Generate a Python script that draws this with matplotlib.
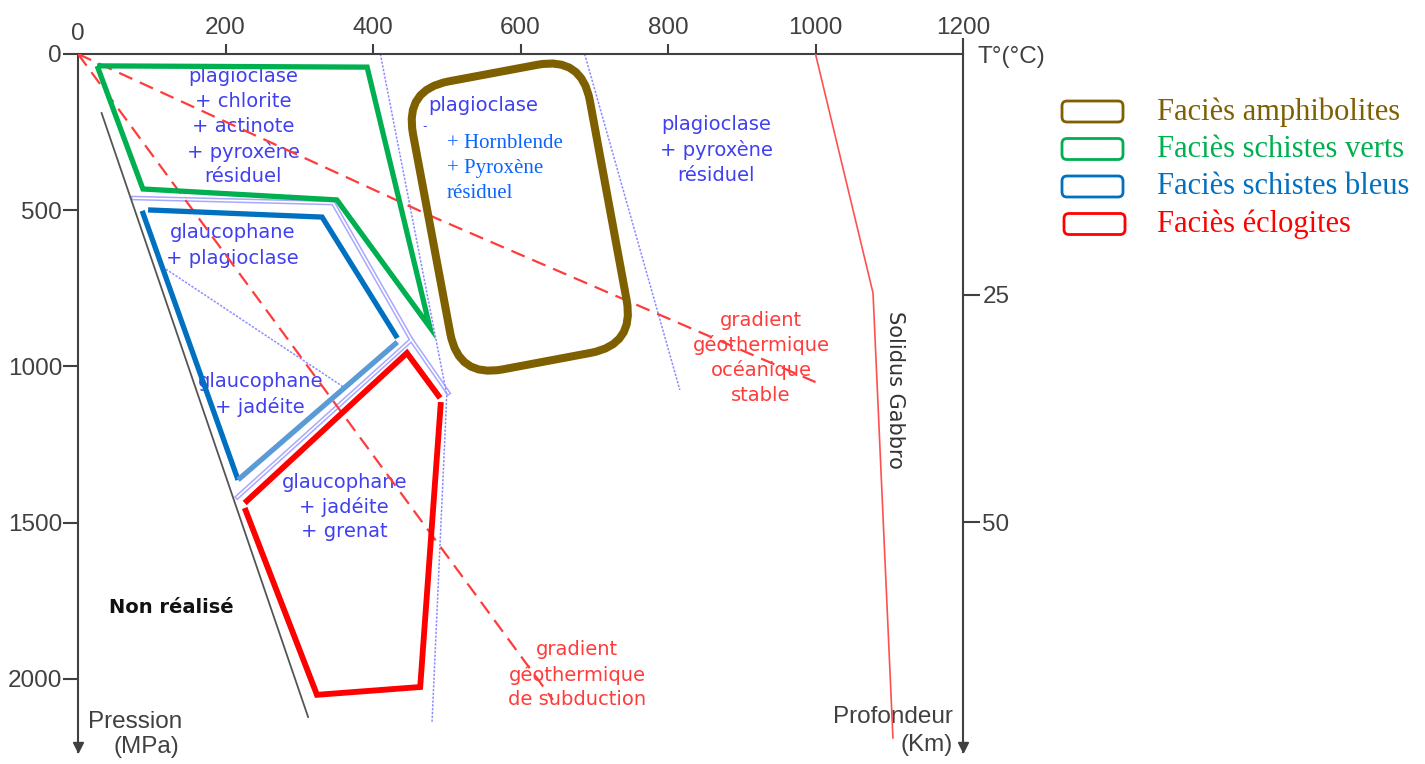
import numpy as np
import matplotlib
matplotlib.use("Agg")
import matplotlib.pyplot as plt
import matplotlib.transforms as mtransforms
from matplotlib.path import Path
from matplotlib.patches import PathPatch, FancyBboxPatch

# ---------------------------------------------------------------
# Facies fields: temperature (°C) and pressure (MPa) of the vertices
# ---------------------------------------------------------------
green_T = [26, 392, 477, 351, 88]
green_P = [38, 42, 874, 467, 432]

blue_top_T = [95, 331, 433]
blue_top_P = [499, 522, 909]
blue_left_T = [87, 217]
blue_left_P = [502, 1363]
blue_base_T = [217, 433]
blue_base_P = [1363, 922]

red_upper_T = [226, 446, 491]
red_upper_P = [1437, 957, 1101]
red_lower_T = [492, 464, 324, 226]
red_lower_P = [1114, 2026, 2051, 1453]

amph_T = [443, 683, 755, 516]
amph_P = [114, 8, 930, 1036]

# Geothermal gradients, gabbro solidus and limit of the realisable domain
ocean_T = [0, 480, 1000]
ocean_P = [0, 520, 1050]
subd_T = [0, 644]
subd_P = [0, 2067]
solidus_T = [1000, 1078, 1105]
solidus_P = [0, 765, 2189]
limit_T = [32, 312]
limit_P = [189, 2122]

# Reaction curves
r1_T = [410, 500, 480]
r1_P = [0, 1091, 2141]
r2_T = [687, 816]
r2_P = [0, 1075]
r3_T = [115, 362]
r3_P = [682, 1069]
dbl1_T = [75, 346, 452, 502]
dbl1_P = [461, 477, 915, 1085]
dbl2_T = [216, 452]
dbl2_P = [1418, 915]

# Axes
T_ticks = [0, 200, 400, 600, 800, 1000, 1200]
P_ticks = [0, 500, 1000, 1500, 2000]
depth_ticks_P = [771, 1498]
depth_labels = ["25", "50"]

# Legend
legend_labels = ["Faciès amphibolites", "Faciès schistes verts",
                 "Faciès schistes bleus", "Faciès éclogites"]
legend_colors = ["#7F6000", "#00B050", "#0070C0", "#FF0000"]

BROWN, GREEN, BLUE, RED = legend_colors
LIGHTBLUE = "#5B9BD5"
AXC = "#404040"
MIN_C = "#4040F0"
GRAD_C = "#FF3C3C"
RXN_C = "#8C8CFF"

plt.rcParams["font.family"] = ["Liberation Sans", "DejaVu Sans"]

W, H, DPI = 1425, 764, 100
fig = plt.figure(figsize=(W / DPI, H / DPI), dpi=DPI)
ax = fig.add_axes([78 / W, (H - 752) / H, (963 - 78) / W, (752 - 54) / H])
ax.set_xlim(0, 1200)
ax.set_ylim(2234, 0)

# ---- frame ----
for s in ("left", "right", "top"):
    ax.spines[s].set_color(AXC)
    ax.spines[s].set_linewidth(1.5)
ax.spines["bottom"].set_visible(False)

ax.xaxis.tick_top()
ax.set_xticks(T_ticks)
ax.set_xticklabels([str(t) for t in T_ticks])
ax.tick_params(axis="x", direction="out", length=7, width=1.5, pad=4,
               labelsize=17.5, colors=AXC)
ax.set_yticks(P_ticks)
ax.set_yticklabels([str(p) for p in P_ticks])
ax.tick_params(axis="y", direction="out", length=11, width=1.5, pad=0.5,
               labelsize=17.5, colors=AXC, right=False)
xt = ax.xaxis.get_major_ticks()
xt[0].tick2line.set_visible(False)
xt[-1].tick2line.set_visible(False)
xt[0].label2.set_transform(xt[0].label2.get_transform() +
                           mtransforms.ScaledTranslation(0, -6 / DPI, fig.dpi_scale_trans))
ax.yaxis.get_major_ticks()[0].tick1line.set_visible(False)

ax2 = ax.twinx()
ax2.set_ylim(ax.get_ylim())
for s in ax2.spines.values():
    s.set_visible(False)
ax2.set_yticks(depth_ticks_P)
ax2.set_yticklabels(depth_labels)
ax2.tick_params(axis="y", direction="out", length=12, width=1.5, pad=2,
                labelsize=17.5, colors=AXC)

# right axis rises above the temperature axis, both depth axes end in arrows
ax.plot([1200, 1200], [0, -51], color=AXC, lw=1.5, clip_on=False,
        solid_capstyle="butt")
ax.plot([0, 1200], [2218, 2218], ls="none", marker="v", ms=7.5, color=AXC,
        clip_on=False)

ax.text(1219, 10, "T°(°C)", fontsize=17.5, color=AXC, ha="left", va="center")
ax.text(13.6, 2138, "Pression", fontsize=17.5, color=AXC, ha="left", va="center")
ax.text(47.5, 2218, "(MPa)", fontsize=17.5, color=AXC, ha="left", va="center")
ax.text(1186, 2122, "Profondeur", fontsize=17.5, color=AXC, ha="right", va="center")
ax.text(1186, 2211, "(Km)", fontsize=17.5, color=AXC, ha="right", va="center")

# ---- reaction curves (thin dotted blue) ----
ax.plot(dbl1_T, dbl1_P, color="#A8A8FF", lw=3.4, zorder=1.5)
ax.plot(dbl1_T, dbl1_P, color="white", lw=1.2, zorder=1.6)
ax.plot(dbl2_T, dbl2_P, color="#A8A8FF", lw=3.4, zorder=1.5)
ax.plot(dbl2_T, dbl2_P, color="white", lw=1.2, zorder=1.6)
for tt, pp in ((r1_T, r1_P), (r2_T, r2_P), (r3_T, r3_P)):
    ax.plot(tt, pp, color=RXN_C, lw=1.1, ls=(0, (1.5, 1)), zorder=2)

# ---- labels of the mineral assemblages ----
def stacked(x, y, lines, step_px, **kw):
    n = len(lines)
    for i, line in enumerate(lines):
        dy = -(i - (n - 1) / 2) * step_px / DPI
        tr = ax.transData + mtransforms.ScaledTranslation(0, dy, fig.dpi_scale_trans)
        ax.text(x, y, line, transform=tr, va="center_baseline", zorder=3, **kw)

sans = dict(family="DejaVu Sans", fontsize=14, color=MIN_C, ha="center")
stacked(224, 227, ["plagioclase", "+ chlorite", "+ actinote", "+ pyroxène",
                   "résiduel"], 25, **sans)
stacked(865, 301, ["plagioclase", "+ pyroxène", "résiduel"], 25.5, **sans)
stacked(209, 605, ["glaucophane", "+ plagioclase"], 26, **sans)
stacked(247, 1083, ["glaucophane", "+ jadéite"], 25, **sans)
stacked(361, 1444, ["glaucophane", "+ jadéite", "+ grenat"], 24.5, **sans)
ax.text(475, 157, "plagioclase", family="DejaVu Sans", fontsize=14,
        color=MIN_C, ha="left", va="center_baseline", zorder=3)
ax.text(470, 232, "-", family="DejaVu Sans", fontsize=9, color=MIN_C,
        ha="center", va="center", zorder=3)
stacked(500, 358, ["+ Hornblende", "+ Pyroxène", "résiduel"], 25,
        family="Liberation Serif", fontsize=15, color="#0A64FF", ha="left")

red_sans = dict(family="DejaVu Sans", fontsize=14, color=GRAD_C, ha="center")
stacked(926, 965, ["gradient", "géothermique", "océanique", "stable"], 25, **red_sans)
stacked(677, 1981, ["gradient", "géothermique", "de subduction"], 25, **red_sans)

ax.text(126, 1770, "Non réalisé", family="DejaVu Sans", fontsize=14,
        fontweight="bold", color="#111111", ha="center", va="center", zorder=3)
ax.text(1108, 1075, "Solidus Gabbro", family="DejaVu Sans", fontsize=15,
        color="#333333", rotation=-90, ha="center", va="center", zorder=3)

# ---- gradients and limits ----
ax.plot(ocean_T, ocean_P, color=GRAD_C, lw=1.6, dashes=(6.5, 3.7), zorder=4)
ax.plot(subd_T, subd_P, color=GRAD_C, lw=1.6, dashes=(6.5, 3.7), zorder=4)
ax.plot(solidus_T, solidus_P, color="#FF5050", lw=1.2, zorder=4)
ax.plot(limit_T, limit_P, color="#555555", lw=1.3, zorder=4)

# ---- facies fields ----
poly_kw = dict(solid_joinstyle="miter", solid_capstyle="butt", zorder=5)
ax.plot(green_T + green_T[:1], green_P + green_P[:1], color=GREEN, lw=3.8, **poly_kw)
ax.plot(blue_top_T, blue_top_P, color=BLUE, lw=3.8, **poly_kw)
ax.plot(blue_left_T, blue_left_P, color=BLUE, lw=3.8, **poly_kw)
ax.plot(blue_base_T, blue_base_P, color=LIGHTBLUE, lw=3.8, **poly_kw)
ax.plot(red_upper_T, red_upper_P, color=RED, lw=4.2, **poly_kw)
ax.plot(red_lower_T, red_lower_P, color=RED, lw=4.2, **poly_kw)


def rounded_box(T, P, radius_px):
    """Closed path through the given corners, rounded in screen space."""
    pts = ax.transData.transform(np.column_stack([T, P]))
    n = len(pts)
    verts, codes = [], []
    for i in range(n):
        p0, p1, p2 = pts[i - 1], pts[i], pts[(i + 1) % n]
        d1 = (p0 - p1) / np.hypot(*(p0 - p1))
        d2 = (p2 - p1) / np.hypot(*(p2 - p1))
        verts.append(p1 + d1 * radius_px)
        codes.append(Path.MOVETO if i == 0 else Path.LINETO)
        verts += [p1, p1 + d2 * radius_px]
        codes += [Path.CURVE3, Path.CURVE3]
    verts.append(verts[0])
    codes.append(Path.CLOSEPOLY)
    data_verts = ax.transData.inverted().transform(np.array(verts))
    return Path(data_verts, codes)


ax.add_patch(PathPatch(rounded_box(amph_T, amph_P, 45), facecolor="none",
                       edgecolor=BROWN, lw=5.8, zorder=5))

# ---- legend ----
for i, (lab, col) in enumerate(zip(legend_labels, legend_colors)):
    top = 101 + 37.5 * i
    x0 = 1062 + (2 if i == 3 else 0)
    box = FancyBboxPatch((x0 / DPI, (H - top - 21) / DPI), 61 / DPI, 21 / DPI,
                         boxstyle="round,pad=0,rounding_size=0.05",
                         transform=fig.dpi_scale_trans, facecolor="white",
                         edgecolor=col, lw=2.0)
    fig.patches.append(box)
    fig.text(1157 / DPI, (H - top - 11) / DPI, lab, transform=fig.dpi_scale_trans,
             family="Liberation Serif", fontsize=22, color=col,
             ha="left", va="center")

fig.savefig("out.png", dpi=DPI)
